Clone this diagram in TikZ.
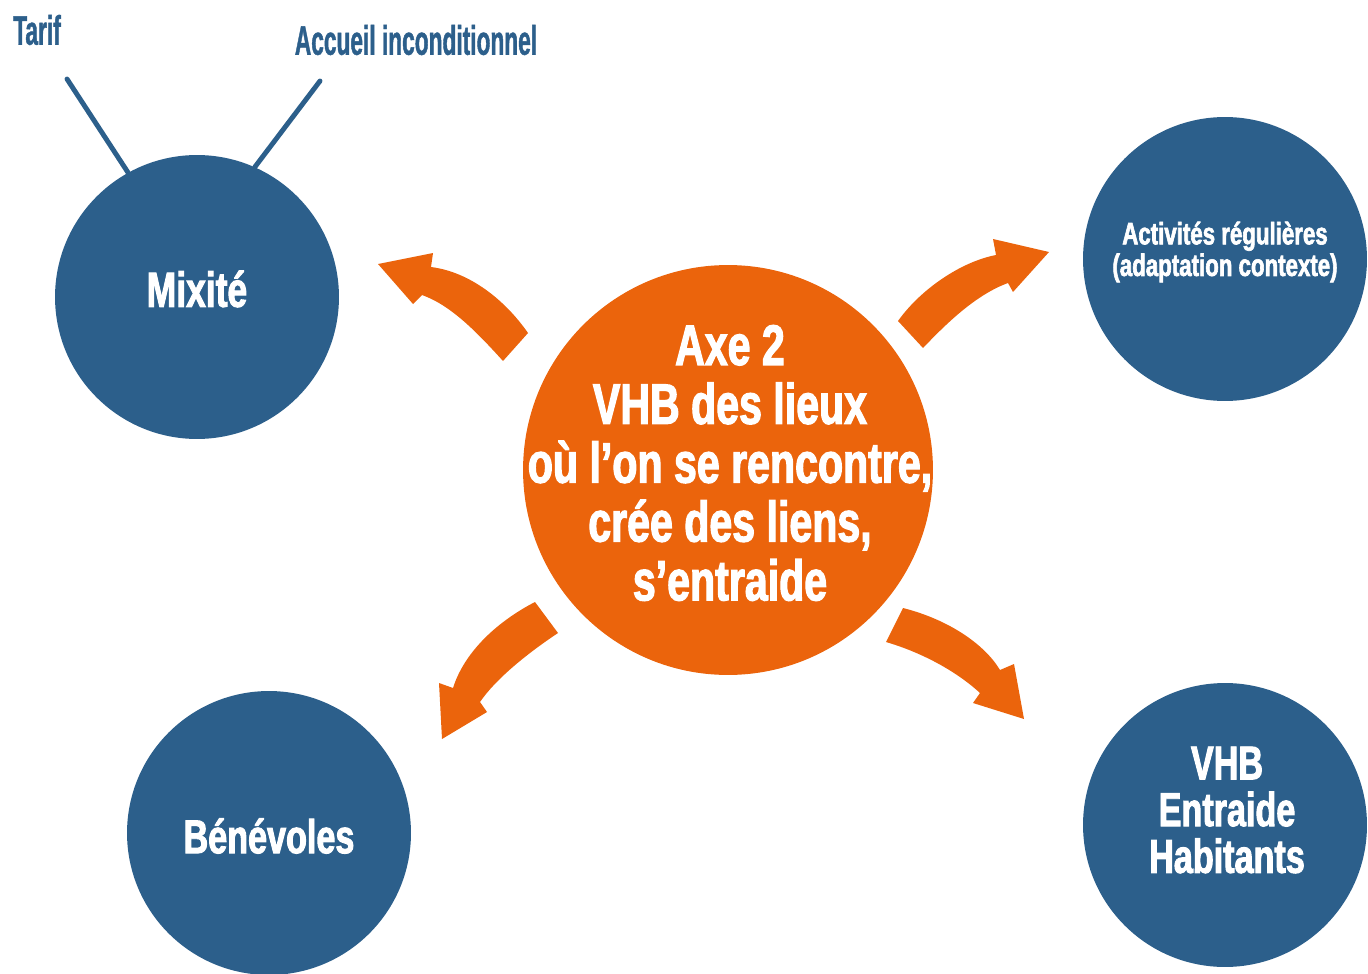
\documentclass[tikz,border=0pt]{standalone}
\usepackage{fontspec}
\newfontfamily\cond[FakeStretch=0.72,FakeBold=2]{Liberation Sans}
\newfontfamily\tagfont[FakeStretch=0.55,FakeBold=1]{Liberation Sans}
\definecolor{vhbblue}{HTML}{2C5F8B}
\definecolor{vhborange}{HTML}{EB640C}
\begin{document}
\begin{tikzpicture}[x=0.02cm,y=-0.02cm,
  bubble/.style={circle, fill=vhbblue, inner sep=0pt, minimum size=5.68cm},
  hub/.style={circle, fill=vhborange, inner sep=0pt, minimum size=8.2cm},
  inside/.style={text=white, align=center, inner sep=0pt},
  tag/.style={text=vhbblue, inner sep=0pt, font=\tagfont\bfseries\fontsize{23.5}{25}\selectfont},
  spoke/.style={draw=vhbblue, line width=2.8pt, line cap=round},
  bigarrow/.style={fill=vhborange}]
\useasboundingbox (0,0) rectangle (1368,973);

% circles
\node[hub] (hub) at (728,470) {};
\node[bubble] (mix) at (197,297) {};
\node[bubble] (act) at (1225,259) {};
\node[bubble] (ben) at (269,833) {};
\node[bubble] (vhb) at (1225,825) {};

% circle texts
\node[inside, font=\cond\bfseries\fontsize{32.5}{33.5}\selectfont] (hubtext) at (730,463)
  {Axe 2\\VHB des lieux\\où l’on se rencontre,\\crée des liens,\\s’entraide};
\node[inside, font=\cond\bfseries\fontsize{28}{30}\selectfont] (mixtext) at (197,289) {Mixité};
\node[inside, font=\cond\bfseries\fontsize{17.6}{18}\selectfont] (acttext) at (1225,252) {Activités régulières\\(adaptation contexte)};
\node[inside, font=\cond\bfseries\fontsize{27}{29}\selectfont] (bentext) at (269,836) {Bénévoles};
\node[inside, font=\cond\bfseries\fontsize{27}{26.6}\selectfont] (vhbtext) at (1227,810) {VHB\\Entraide\\Habitants};

% top labels
\node[tag] (tarif) at (37,30) {Tarif};
\node[tag] (accueil) at (416,40) {Accueil inconditionnel};
\coordinate (t1) at (67,79);
\coordinate (t2) at (320,81);
\draw[spoke] (t1) -- (mix.119);
\draw[spoke] (t2) -- (mix.66);

% block arrows
\fill[bigarrow] (378,264) -- (433,253) -- (431,267) .. controls (470,272) and (505,300) .. (528,333)
  -- (503,361) .. controls (475,330) and (450,305) .. (422,295) -- (413,304) -- cycle;
\fill[bigarrow] (1049,252) -- (993,239) -- (996,255) .. controls (960,262) and (920,290) .. (898,321)
  -- (923,348) .. controls (945,325) and (975,295) .. (1008,283) -- (1013,292) -- cycle;
\fill[bigarrow] (442,739) -- (439,683) -- (453,688) .. controls (465,650) and (500,620) .. (535,602)
  -- (558,633) .. controls (525,655) and (495,680) .. (480,702) -- (487,712) -- cycle;
\fill[bigarrow] (1024,719) -- (1014,664) -- (1000,670) .. controls (985,645) and (950,620) .. (903,608)
  -- (886,642) .. controls (920,652) and (955,670) .. (980,693) -- (973,703) -- cycle;
\end{tikzpicture}
\end{document}
